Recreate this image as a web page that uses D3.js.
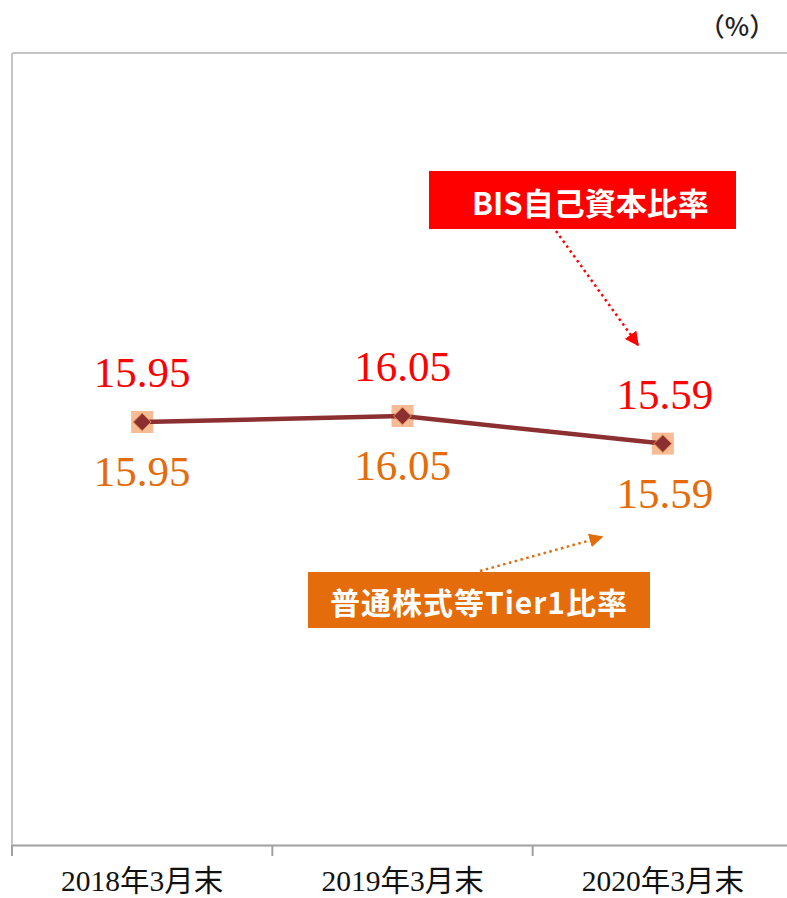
<!DOCTYPE html>
<html>
<head>
<meta charset="utf-8">
<script src="https://cdn.jsdelivr.net/npm/d3@7"></script>
<style>
  html, body { margin: 0; padding: 0; background: #fff; }
  svg { display: block; }
</style>
</head>
<body>
<svg id="chart" width="787" height="898"></svg>
<script>
// Capital ratios at fiscal year end (%)
const categories = ["2018年3月末", "2019年3月末", "2020年3月末"];
const bisRatio = [15.95, 16.05, 15.59];      // BIS自己資本比率
const cet1Ratio = [15.95, 16.05, 15.59];     // 普通株式等Tier1比率
const yDomain = [8.9, 22.1];
const unitLabel = "（%）";
const bisLabel = "BIS自己資本比率";
const cet1Label = "普通株式等Tier1比率";

const svg = d3.select("#chart");
const plotLeft = 12, plotRight = 793, plotTop = 53, plotBottom = 845;

const x = d3.scaleBand().domain(categories).range([plotLeft, plotRight]).padding(0);
const y = d3.scaleLinear().domain(yDomain).range([plotBottom, plotTop]);
const cx = d => x(d) + x.bandwidth() / 2;

const defs = svg.append("defs");
function arrowMarker(id, color) {
  defs.append("marker")
    .attr("id", id)
    .attr("viewBox", "0 0 10 10")
    .attr("refX", 9).attr("refY", 5)
    .attr("markerWidth", 14).attr("markerHeight", 14)
    .attr("markerUnits", "userSpaceOnUse")
    .attr("orient", "auto")
    .append("path").attr("d", "M0,0 L10,5 L0,10 Z").attr("fill", color);
}
arrowMarker("arrRed", "#ff0000");
arrowMarker("arrOrange", "#e46c0a");

// Plot frame: top rule and left edge
svg.append("line").attr("x1", plotLeft).attr("x2", 787).attr("y1", plotTop).attr("y2", plotTop)
  .attr("stroke", "#c4c4c4").attr("stroke-width", 2);
svg.append("line").attr("x1", plotLeft).attr("x2", plotLeft).attr("y1", plotTop).attr("y2", plotBottom)
  .attr("stroke", "#c4c4c4").attr("stroke-width", 2);

// Category axis
const xAxis = d3.axisBottom(x).tickSize(0).tickFormat(d => d);
const axisG = svg.append("g").attr("transform", `translate(0,${plotBottom})`).call(xAxis);
axisG.select(".domain").attr("stroke", "#a0a0a0").attr("stroke-width", 2);
axisG.selectAll(".tick text")
  .attr("dy", 0).attr("y", 46)
  .attr("font-family", "'Liberation Serif', 'Noto Sans CJK JP', serif")
  .attr("font-size", 29.5).attr("fill", "#111");
// Boundary ticks between categories
const bounds = categories.map(c => x(c));
svg.append("g").selectAll("line").data(bounds).join("line")
  .attr("x1", d => d).attr("x2", d => d)
  .attr("y1", plotBottom).attr("y2", plotBottom + 11)
  .attr("stroke", "#a0a0a0").attr("stroke-width", 2);

// Unit
svg.append("text").attr("x", 737).attr("y", 36).attr("text-anchor", "middle")
  .attr("font-family", "'Noto Sans CJK JP', sans-serif").attr("font-size", 26)
  .attr("font-weight", 500).attr("fill", "#222").text(unitLabel);

// CET1 markers (squares)
svg.append("g").selectAll("rect").data(cet1Ratio).join("rect")
  .attr("x", (d, i) => cx(categories[i]) - 11)
  .attr("y", d => y(d) - 11)
  .attr("width", 22).attr("height", 22)
  .attr("fill", "#f6b48a").attr("opacity", 0.9);

// BIS line
const line = d3.line().x((d, i) => cx(categories[i])).y(d => y(d));
svg.append("path").datum(bisRatio).attr("d", line)
  .attr("fill", "none").attr("stroke", "#8c2f31").attr("stroke-width", 4.5)
  .attr("stroke-linejoin", "round");

// BIS markers (diamonds)
svg.append("g").selectAll("path").data(bisRatio).join("path")
  .attr("d", d3.symbol().type(d3.symbolDiamond2).size(200))
  .attr("transform", (d, i) => `translate(${cx(categories[i])},${y(d)})`)
  .attr("fill", "#8c2f31").attr("stroke", "#e8904f").attr("stroke-width", 1);

// Value labels
const serif = "'Liberation Serif', 'Times New Roman', serif";
svg.append("g").selectAll("text").data(bisRatio).join("text")
  .attr("x", (d, i) => cx(categories[i]) + (i === 2 ? 2 : 0))
  .attr("y", d => y(d) - 35)
  .attr("text-anchor", "middle").attr("font-family", serif).attr("font-size", 43)
  .attr("fill", "#ff0000").text(d => d.toFixed(2));
svg.append("g").selectAll("text").data(cet1Ratio).join("text")
  .attr("x", (d, i) => cx(categories[i]) + (i === 2 ? 2 : 0))
  .attr("y", d => y(d) + 64)
  .attr("text-anchor", "middle").attr("font-family", serif).attr("font-size", 43)
  .attr("fill", "#e46c0a").text(d => d.toFixed(2));

// Callout: BIS
const sans = "'Noto Sans CJK JP', sans-serif";
svg.append("rect").attr("x", 429).attr("y", 171).attr("width", 307).attr("height", 58)
  .attr("fill", "#ff0000");
svg.append("text").attr("x", 472).attr("y", 215)
  .attr("font-family", sans).attr("font-weight", 700).attr("font-size", 31)
  .attr("fill", "#fff").text(bisLabel);
svg.append("line").attr("x1", 556).attr("y1", 231).attr("x2", 638).attr("y2", 345)
  .attr("stroke", "#ff0000").attr("stroke-width", 2.5).attr("stroke-dasharray", "2.5,3.5")
  .attr("marker-end", "url(#arrRed)");

// Callout: CET1
svg.append("rect").attr("x", 308).attr("y", 572).attr("width", 342).attr("height", 56)
  .attr("fill", "#e46c0a");
svg.append("text").attr("x", 479).attr("y", 614).attr("text-anchor", "middle")
  .attr("font-family", sans).attr("font-weight", 700).attr("font-size", 30)
  .attr("letter-spacing", 1)
  .attr("fill", "#fff").text(cet1Label);
svg.append("line").attr("x1", 480).attr("y1", 571).attr("x2", 602).attr("y2", 537)
  .attr("stroke", "#e46c0a").attr("stroke-width", 2.5).attr("stroke-dasharray", "2.5,3.5")
  .attr("marker-end", "url(#arrOrange)");
</script>
</body>
</html>
